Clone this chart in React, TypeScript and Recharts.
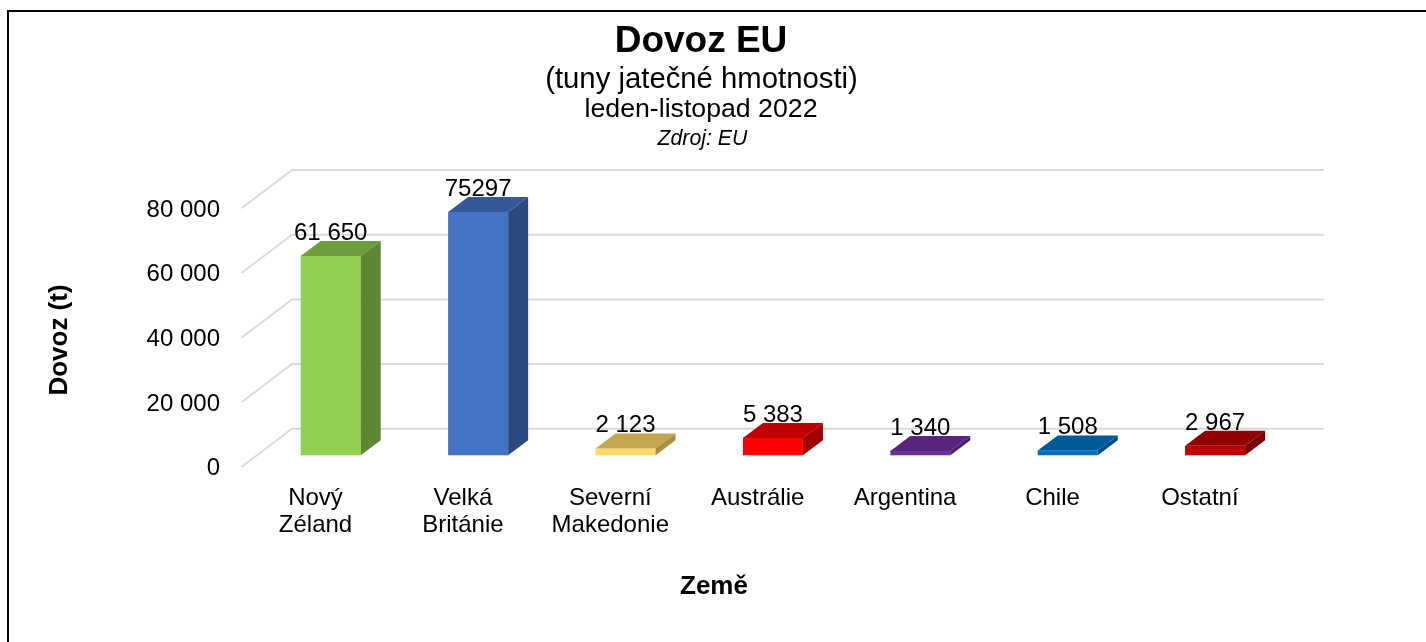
import React from 'react';
import { BarChart, Bar, XAxis, YAxis, CartesianGrid, LabelList } from 'recharts';

const categories = ['Nový\nZéland', 'Velká\nBritánie', 'Severní\nMakedonie', 'Austrálie', 'Argentina', 'Chile', 'Ostatní'];
const values = [61650, 75297, 2123, 5383, 1340, 1508, 2967];
const valueLabels = ['61 650', '75297', '2 123', '5 383', '1 340', '1 508', '2 967'];
const yTicks = [0, 20000, 40000, 60000, 80000];
const yTickLabels = ['0', '20 000', '40 000', '60 000', '80 000'];
const frontColors = ['#92D050', '#4472C4', '#FFD966', '#FF0000', '#7030A0', '#0070C0', '#C00000'];
const topColors = ['#6E9D3B', '#34589A', '#C4A84F', '#C00000', '#582480', '#005A9A', '#920000'];
const sideColors = ['#5E8733', '#2C4A80', '#A68E43', '#A00000', '#4A1E6C', '#004C82', '#7B0000'];

const data = categories.map((name, i) => ({ name, value: values[i], label: valueLabels[i] }));

const FONT = '"Liberation Sans", Arial, Helvetica, sans-serif';
// 3D offsets
const FX = 15.3; // front floor edge shift (left)
const FY = 11.6; // front floor edge shift (down)
const BX = 35.2; // back wall shift (right)
const BY = 26.6; // back wall shift (up)
const DX = 20; // bar depth x
const DY = 15; // bar depth y

const gridLine = (props: any) => {
  const { x1, y1, x2 } = props;
  const d = `M${x1 - FX},${y1 + FY} L${x1 + BX},${y1 - BY} L${x2 + BX},${y1 - BY}`;
  return <path key={props.key ?? `g-${props.index}-${y1}`} d={d} stroke="#D9D9D9" strokeWidth={2} fill="none" />;
};

const BoxShape = (props: any) => {
  const { x, y, width, height, index } = props;
  const w = width;
  const h = height;
  return (
    <g>
      <rect x={x} y={y} width={w} height={h} fill={frontColors[index]} />
      <polygon
        points={`${x},${y} ${x + DX},${y - DY} ${x + w + DX},${y - DY} ${x + w},${y}`}
        fill={topColors[index]}
      />
      <polygon
        points={`${x + w},${y} ${x + w + DX},${y - DY} ${x + w + DX},${y + h - DY} ${x + w},${y + h}`}
        fill={sideColors[index]}
      />
    </g>
  );
};

const YTick = (props: any) => {
  const { y, payload } = props;
  const idx = yTicks.indexOf(payload.value);
  return (
    <text x={220} y={y + 20} textAnchor="end" fontSize={24} fontFamily={FONT} fill="#000">
      {yTickLabels[idx]}
    </text>
  );
};

const XTick = (props: any) => {
  const { x, y, payload } = props;
  const lines = String(payload.value).split('\n');
  const tx = x - 15;
  return (
    <text x={tx} y={y + 49.7} textAnchor="middle" fontSize={24} fontFamily={FONT} fill="#000">
      {lines.map((l, i) => (
        <tspan key={i} x={tx} dy={i === 0 ? 0 : 27}>
          {l}
        </tspan>
      ))}
    </text>
  );
};

const ValueLabel = (props: any) => {
  const { x, y, width, index } = props;
  return (
    <text x={x + width / 2} y={y - 16} textAnchor="middle" fontSize={24} fontFamily={FONT} fill="#000">
      {valueLabels[index]}
    </text>
  );
};

export default function App() {
  return (
    <div style={{ position: 'relative', width: 1410, height: 626 }}>
      <div
        style={{
          position: 'fixed',
          left: 7,
          top: 10,
          width: 1419,
          height: 632,
          borderLeft: '2px solid #000',
          borderTop: '2px solid #000',
          boxSizing: 'border-box',
        }}
      />
      <div style={{ position: 'fixed', left: 0, top: 0 }}>
        <BarChart
          width={1426}
          height={642}
          data={data}
          margin={{ top: 196.7, right: 137.4, left: 0, bottom: 0 }}
          barCategoryGap="29.8%"
        >
          <CartesianGrid vertical={false} horizontal={gridLine} />
          <XAxis
            dataKey="name"
            height={186.7}
            axisLine={false}
            tickLine={false}
            tickSize={0}
            tickMargin={0}
            interval={0}
            tick={<XTick />}
          />
          <YAxis
            width={256.8}
            domain={[0, 80000]}
            ticks={yTicks}
            axisLine={false}
            tickLine={false}
            tickSize={0}
            tickMargin={0}
            tick={<YTick />}
          />
          <Bar dataKey="value" shape={<BoxShape />} isAnimationActive={false}>
            <LabelList dataKey="value" content={<ValueLabel />} />
          </Bar>
        </BarChart>
      </div>
      <svg
        width={1426}
        height={642}
        style={{ position: 'fixed', left: 0, top: 0, pointerEvents: 'none' }}
      >
        <g fontFamily={FONT} fill="#000">
          <text x={701} y={52} textAnchor="middle" fontSize={37} fontWeight="bold">
            Dovoz EU
          </text>
          <text x={701.5} y={88} textAnchor="middle" fontSize={29.3}>
            (tuny jatečné hmotnosti)
          </text>
          <text x={701} y={117} textAnchor="middle" fontSize={26.7}>
            leden-listopad 2022
          </text>
          <text x={702.5} y={145} textAnchor="middle" fontSize={21.3} fontStyle="italic">
            Zdroj: EU
          </text>
          <text
            x={67}
            y={340}
            textAnchor="middle"
            fontSize={26}
            fontWeight="bold"
            transform="rotate(-90 67 340)"
          >
            Dovoz (t)
          </text>
          <text x={714} y={594} textAnchor="middle" fontSize={26} fontWeight="bold">
            Země
          </text>
        </g>
      </svg>
    </div>
  );
}
